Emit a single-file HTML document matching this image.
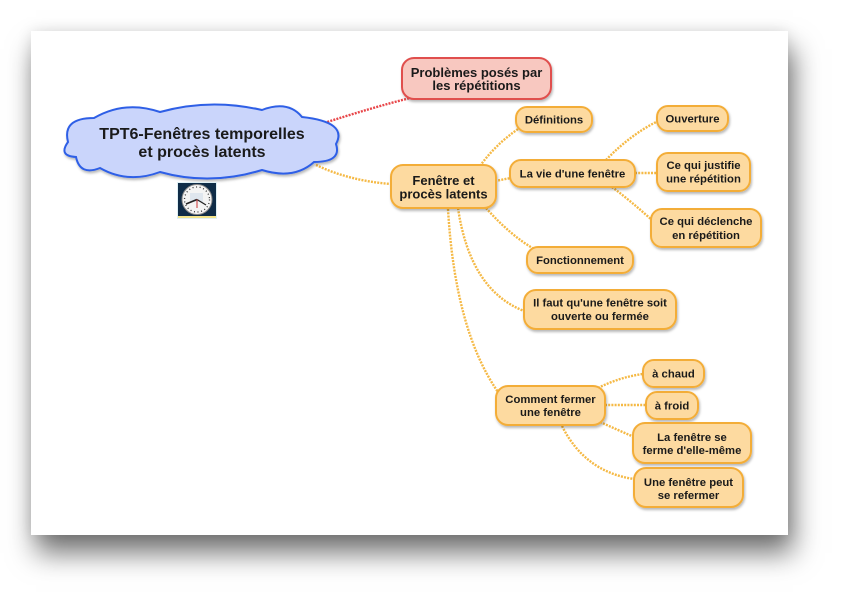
<!DOCTYPE html>
<html><head><meta charset="utf-8">
<style>
html,body{margin:0;padding:0;background:#fff;width:852px;height:600px;overflow:hidden;}
.page{position:absolute;left:31px;top:31px;width:757px;height:504px;background:#fff;
box-shadow:0 0 14px rgba(0,0,0,0.10), 5px 18px 26px rgba(0,0,0,0.55);}
svg{position:absolute;left:0;top:0;}
text{font-family:"Liberation Sans",Arial,sans-serif;font-weight:bold;fill:#1a1a1a;text-anchor:middle;}
</style></head><body>
<div class="page"></div>
<svg width="852" height="600" viewBox="0 0 852 600" xmlns="http://www.w3.org/2000/svg">
<defs>
<filter id="sh" x="-20%" y="-20%" width="140%" height="150%">
<feDropShadow dx="1" dy="2" stdDeviation="1.3" flood-color="#000" flood-opacity="0.28"/>
</filter>
</defs>

<!-- connectors -->
<g fill="none" stroke-linecap="butt">
<path d="M318,125 Q370,108 414,97" stroke="#e8474a" stroke-width="2.4" stroke-dasharray="2 1.2"/>
<g stroke="#f5b945" stroke-width="2.4" stroke-dasharray="2 1.2">
<path d="M316,165 Q350,181 391,184"/>
<path d="M480,166 Q495,145 518,129"/>
<path d="M495,181 L511,178"/>
<path d="M606,160 Q630,135 658,121"/>
<path d="M635,173 L657,173"/>
<path d="M612,187 Q632,202 653,221"/>
<path d="M486,208 Q510,235 534,249"/>
<path d="M458,208 Q470,290 524,311"/>
<path d="M448,209 Q455,330 498,392"/>
<path d="M598,388 Q620,377 643,374"/>
<path d="M605,405 L646,405"/>
<path d="M600,422 Q618,430 634,437"/>
<path d="M562,426 Q585,472 634,479"/>
</g>
</g>

<!-- cloud -->
<path filter="url(#sh)" d="M68,142 Q62,118 94,118 Q125,100 160,112 Q210,98 262,110 Q288,100 302,117 Q348,122 336,144 Q342,162 314,162 Q294,180 262,170 Q210,186 160,172 Q128,184 100,168 Q80,176 76,157 Q58,156 68,142 Z" fill="#cad5fb" stroke="#2f5fe6" stroke-width="2"/>
<text x="202" y="139" font-size="16">TPT6-Fenêtres temporelles</text>
<text x="202" y="157" font-size="16">et procès latents</text>

<!-- clock icon -->
<rect x="177" y="182" width="40" height="37" fill="#dff0f5"/>
<rect x="178" y="183" width="38" height="33" fill="#0f2c47"/>
<rect x="178" y="216" width="38" height="2" fill="#f3e48a"/>
<circle cx="197" cy="199.5" r="15" fill="#f4f4f4" stroke="#888" stroke-width="1"/>
<circle cx="197" cy="199.5" r="12.5" fill="none" stroke="#333" stroke-width="1.3" stroke-dasharray="1 2.6"/>
<rect x="190" y="193" width="13" height="9" fill="#dfe6ee"/>
<line x1="197" y1="199.5" x2="186" y2="204" stroke="#222" stroke-width="1.6"/>
<line x1="197" y1="199.5" x2="206" y2="205" stroke="#222" stroke-width="1.3"/>
<line x1="197" y1="199.5" x2="197" y2="208" stroke="#c33" stroke-width="1"/>

<!-- Problèmes -->
<rect filter="url(#sh)" x="402" y="58" width="149" height="41" rx="12" fill="#f8c8c0" stroke="#e0504e" stroke-width="2"/>
<text x="476.5" y="77" font-size="13">Problèmes posés par</text>
<text x="476.5" y="90" font-size="13">les répétitions</text>

<g fill="#fddaa0" stroke="#f3ad38" stroke-width="2" filter="url(#sh)">
<rect x="391" y="165" width="105" height="43" rx="12"/>
<rect x="516" y="107" width="76" height="25" rx="11"/>
<rect x="657" y="106" width="71" height="25" rx="11"/>
<rect x="510" y="160" width="125" height="27" rx="11"/>
<rect x="657" y="153" width="93" height="38" rx="11"/>
<rect x="651" y="209" width="110" height="38" rx="11"/>
<rect x="527" y="247" width="106" height="26" rx="11"/>
<rect x="524" y="290" width="152" height="39" rx="12"/>
<rect x="496" y="386" width="109" height="39" rx="12"/>
<rect x="643" y="360" width="61" height="27" rx="11"/>
<rect x="646" y="392" width="52" height="27" rx="11"/>
<rect x="633" y="423" width="118" height="40" rx="12"/>
<rect x="634" y="468" width="109" height="39" rx="12"/>
</g>

<text x="443.5" y="185" font-size="13">Fenêtre et</text>
<text x="443.5" y="198.5" font-size="13">procès latents</text>

<g font-size="11.3">
<text x="554" y="123.5">Définitions</text>
<text x="692.5" y="122.5">Ouverture</text>
<text x="572.5" y="177.5">La vie d'une fenêtre</text>
<text x="703.5" y="169">Ce qui justifie</text>
<text x="703.5" y="182.5">une répétition</text>
<text x="706" y="225">Ce qui déclenche</text>
<text x="706" y="239">en répétition</text>
<text x="580" y="264">Fonctionnement</text>
<text x="600" y="306.5">Il faut qu'une fenêtre soit</text>
<text x="600" y="320">ouverte ou fermée</text>
<text x="550.5" y="403">Comment fermer</text>
<text x="550.5" y="416">une fenêtre</text>
<text x="673.5" y="377.5">à chaud</text>
<text x="672" y="409.5">à froid</text>
<text x="692" y="441">La fenêtre se</text>
<text x="692" y="454">ferme d'elle-même</text>
<text x="688.5" y="486">Une fenêtre peut</text>
<text x="688.5" y="499">se refermer</text>
</g>
</svg>
</body></html>
